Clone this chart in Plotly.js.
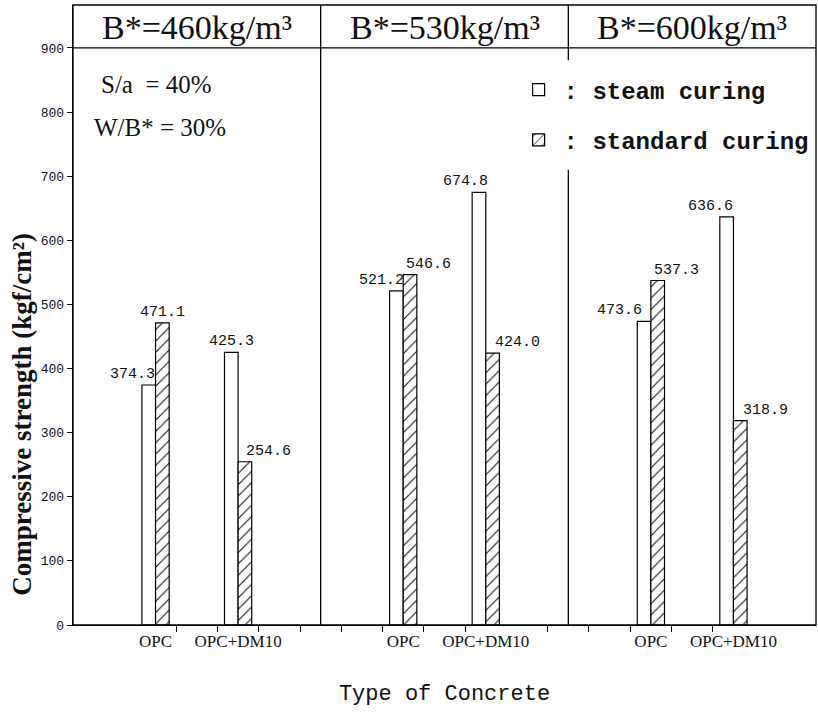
<!DOCTYPE html>
<html>
<head>
<meta charset="utf-8">
<script src="https://cdn.plot.ly/plotly-3.0.1.min.js"></script>
<style>html,body{margin:0;padding:0;background:#fff;}#chart{width:818px;height:712px;}</style>
</head>
<body>
<div id="chart"></div>
<script>
// ---- data ----
const groups = ['B*=460kg/m³', 'B*=530kg/m³', 'B*=600kg/m³'];
const concreteTypes = ['OPC', 'OPC+DM10'];
// order: group0-OPC, group0-DM10, group1-OPC, group1-DM10, group2-OPC, group2-DM10
const steamCuring = [374.3, 425.3, 521.2, 674.8, 473.6, 636.6];
const standardCuring = [471.1, 254.6, 546.6, 424.0, 537.3, 318.9];
const yTickValues = [0, 100, 200, 300, 400, 500, 600, 700, 800, 900];
const notes = ['S/a  = 40%', 'W/B* = 30%'];
const legendNames = [': steam curing', ': standard curing'];
const xTitle = 'Type of Concrete';
const yTitle = 'Compressive strength (kgf/cm²)';

// ---- style ----
const barW = 0.055;
const steamShift = [-16, 0, -15, -13, -25, -16];
const standardShift = [0, 24, 18, 25, 19, 25];
const noteY = [0.871, 0.803];

const xs = [], tickText = [];
groups.forEach((g, gi) => concreteTypes.forEach((t, ti) => { xs.push(gi + (ti + 1) / 3); tickText.push(t); }));

const steam = {
  type: 'bar', x: xs, y: steamCuring, name: legendNames[0],
  width: barW, offset: -barW,
  marker: {color: 'white', line: {color: 'black', width: 1.2}},
  hoverinfo: 'y'
};
const standard = {
  type: 'bar', x: xs, y: standardCuring, name: legendNames[1],
  width: barW, offset: 0, legendgroup: 'b',
  marker: {color: 'white', line: {color: 'black', width: 1.2},
           pattern: {shape: '/', fgcolor: 'black', bgcolor: 'white', size: 8, solidity: 0.12}},
  hoverinfo: 'y'
};

const yTop = 967;
const annotations = [];
groups.forEach((g, gi) => annotations.push({
  x: gi + 0.5, xref: 'x', y: 0.963, yref: 'paper', text: g, showarrow: false,
  xanchor: 'center', yanchor: 'middle',
  font: {family: 'Liberation Serif', size: 34, color: '#111'}
}));
xs.forEach((x, i) => {
  annotations.push({x: x - barW / 2, y: steamCuring[i], text: steamCuring[i].toFixed(1), showarrow: false,
    xanchor: 'center', yanchor: 'bottom', xshift: steamShift[i], yshift: 0,
    font: {family: 'Liberation Mono', size: 15, color: '#111'}});
  annotations.push({x: x + barW / 2, y: standardCuring[i], text: standardCuring[i].toFixed(1), showarrow: false,
    xanchor: 'center', yanchor: 'bottom', xshift: standardShift[i], yshift: 0,
    font: {family: 'Liberation Mono', size: 15, color: '#111'}});
});
notes.forEach((n, i) => annotations.push({
  x: i === 0 ? 0.035 : 0.025, xref: 'paper', y: noteY[i], yref: 'paper', text: n, showarrow: false,
  xanchor: 'left', yanchor: 'middle', font: {family: 'Liberation Serif', size: 25, color: '#111'}
}));
annotations.push({x: -0.068, xref: 'paper', y: 0.34, yref: 'paper', text: '<b>' + yTitle + '</b>', textangle: -90,
  showarrow: false, xanchor: 'center', yanchor: 'middle', font: {family: 'Liberation Serif', size: 27, color: '#111'}});

const minorVals = [];
for (let v = 5 / 12; v < 2.7; v += 1 / 6) { if (Math.abs(v - 1.75) > 0.01) minorVals.push(v); }

const shapes = [
  {type: 'rect', xref: 'paper', yref: 'paper', x0: 0, x1: 1, y0: 0, y1: 1, line: {color: 'black', width: 1.3}},
  {type: 'line', xref: 'paper', yref: 'y', x0: 0, x1: 1, y0: 900, y1: 900, line: {color: 'black', width: 1.3}},
  {type: 'line', xref: 'x', yref: 'paper', x0: 1, x1: 1, y0: 0, y1: 1, line: {color: 'black', width: 1.3}},
  {type: 'line', xref: 'x', yref: 'y', x0: 2, x1: 2, y0: 0, y1: 710, line: {color: 'black', width: 1.3}},
  {type: 'line', xref: 'x', yref: 'y', x0: 2, x1: 2, y0: 881, y1: yTop, line: {color: 'black', width: 1.3}}
];

const layout = {
  width: 818, height: 712,
  margin: {l: 73, r: 2, t: 5, b: 87},
  paper_bgcolor: 'white', plot_bgcolor: 'white',
  barmode: 'overlay',
  showlegend: true,
  legend: {x: 0.593, xanchor: 'left', y: 0.899, yanchor: 'top', bgcolor: 'rgba(0,0,0,0)',
           tracegroupgap: 16, itemwidth: 40,
           font: {family: 'Liberation Mono', size: 24, color: '#111', weight: 'bold'}},
  xaxis: {range: [0, 3], showgrid: false, zeroline: false, showline: true, linecolor: 'black', linewidth: 1.3,
          tickmode: 'array', tickvals: xs, ticktext: tickText, ticks: '',
          tickfont: {family: 'Liberation Serif', size: 17, color: '#111'},
          minor: {tickmode: 'array', tickvals: minorVals, ticks: 'outside', ticklen: 6, tickcolor: 'black', tickwidth: 1, showgrid: false},
          title: {text: xTitle, font: {family: 'Liberation Mono', size: 22, color: '#111'}, standoff: 35},
          automargin: false},
  yaxis: {range: [0, yTop], showgrid: false, zeroline: false, showline: true, linecolor: 'black', linewidth: 1.3,
          tickmode: 'array', tickvals: yTickValues, ticks: 'outside', ticklen: 5, tickcolor: 'black',
          tickfont: {family: 'Liberation Mono', size: 13, color: '#111'}, automargin: false},
  annotations: annotations,
  shapes: shapes
};

Plotly.newPlot('chart', [steam, standard], layout, {displayModeBar: false, staticPlot: true});
</script>
</body>
</html>
